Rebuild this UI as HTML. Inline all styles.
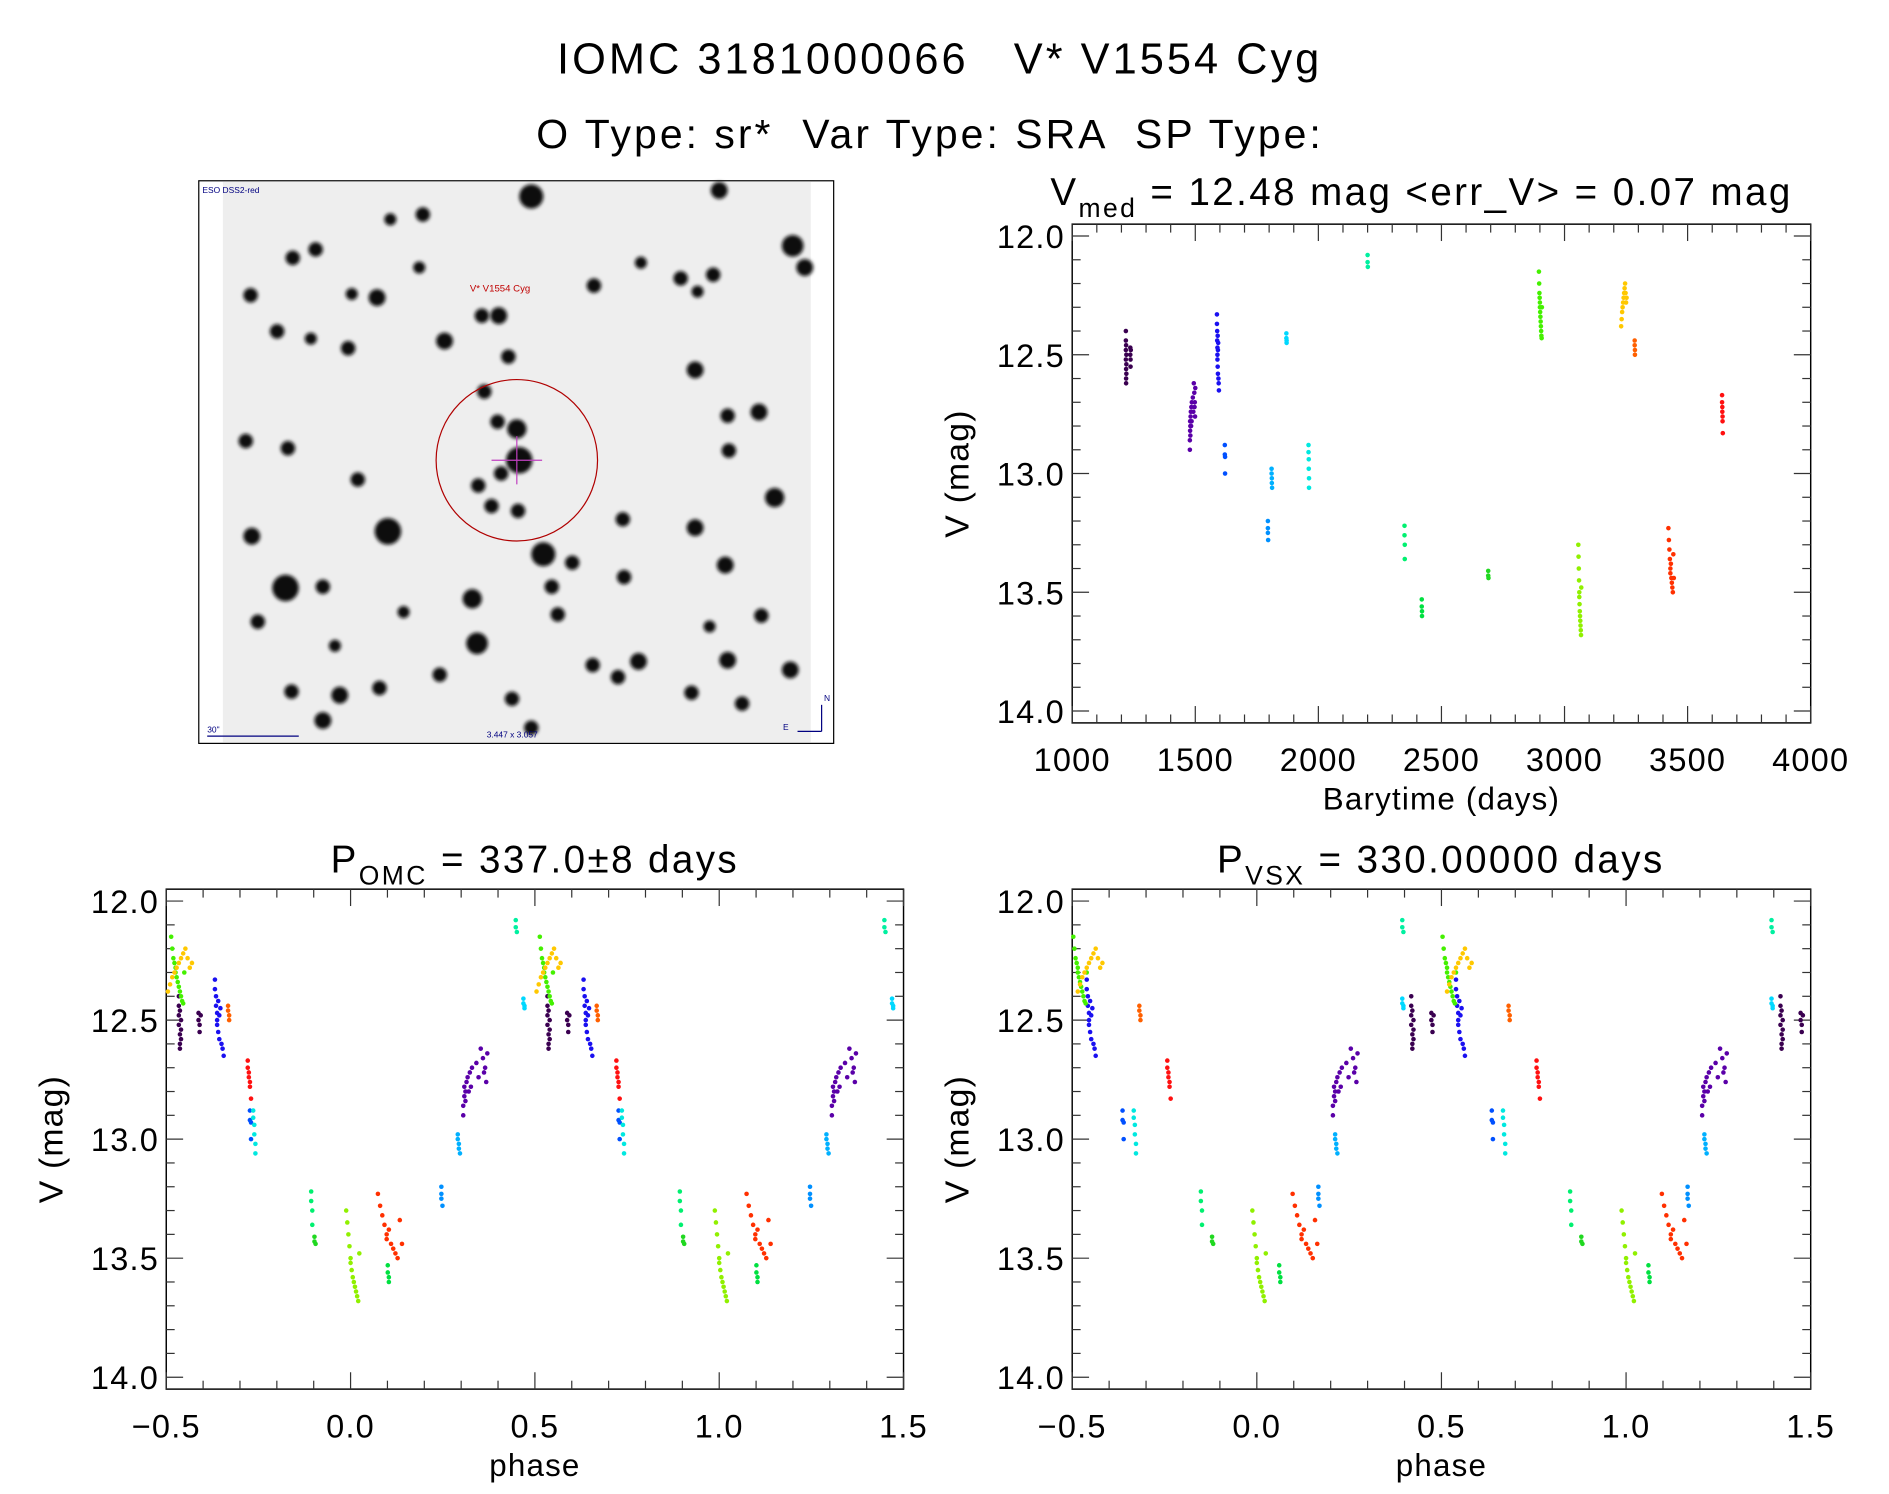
<!DOCTYPE html>
<html><head><meta charset="utf-8"><style>
html,body{margin:0;padding:0;background:#fff;}
svg{display:block;font-family:"Liberation Sans",sans-serif;}
</style></head><body>
<svg id="fig" width="1889" height="1494" viewBox="0 0 1568 1240" xmlns="http://www.w3.org/2000/svg">
<defs><filter id="soft" x="-50%" y="-50%" width="200%" height="200%"><feGaussianBlur stdDeviation="1.6"/></filter></defs>
<text x="780" y="61" font-size="36" text-anchor="middle" letter-spacing="2.5" xml:space="preserve">IOMC 3181000066   V* V1554 Cyg</text>
<text x="772" y="123" font-size="34" text-anchor="middle" letter-spacing="2.5" xml:space="preserve">O Type: sr*  Var Type: SRA  SP Type:</text>
<g id="sky"></g>
<g id="p1"></g>
<g id="p2"></g>
<g id="p3"></g>
</svg>
<script>
// ---- light curve data (time in days, V mag) per observing block ----
const blockColors = ['#3a0050','#5a00a8','#1a10f0','#0050ff','#0090ff','#00b0ff','#00d8ff','#00e8e0','#00f0a0','#00f070','#00e040','#20d820','#44f000','#90f000','#ffc800','#ff6000','#ff3000','#ff1010'];
const blockTimes = [
 [1218,1218,1218,1218,1219,1219,1219,1219,1220,1220,1220,1236,1236,1237,1237,1238],
 [1478,1478,1479,1479,1480,1480,1481,1482,1483,1484,1485,1486,1490,1492,1494,1496,1497,1498,1499,1500],
 [1588,1588,1589,1589,1590,1590,1590,1591,1591,1592,1592,1593,1594,1595,1596],
 [1620,1620,1621,1621],
 [1795,1795,1795,1796],
 [1810,1810,1811,1811,1812],
 [1870,1870,1871,1871],
 [1960,1960,1961,1961,1962,1962],
 [2200,2200,2201],
 [2350,2350,2351,2351],
 [2420,2420,2421,2421],
 [2690,2690,2691],
 [2896,2897,2898,2899,2900,2900,2901,2902,2903,2904,2905,2906,2907,2908],
 [3056,3057,3058,3059,3060,3060,3061,3062,3063,3064,3065,3066,3067,3068],
 [3230,3232,3234,3236,3238,3240,3242,3244,3246,3248,3250,3252],
 [3285,3285,3286,3286],
 [3422,3424,3426,3428,3430,3430,3432,3434,3436,3438,3440,3442,3444],
 [3640,3640,3641,3641,3642,3642,3643]
];
const blockMags = [
 [12.40,12.44,12.48,12.52,12.56,12.60,12.62,12.46,12.50,12.54,12.58,12.47,12.50,12.52,12.55,12.48],
 [12.90,12.86,12.82,12.78,12.80,12.84,12.76,12.74,12.80,12.72,12.78,12.70,12.68,12.74,12.62,12.66,12.72,12.70,12.76,12.64],
 [12.33,12.37,12.40,12.44,12.47,12.50,12.52,12.55,12.42,12.48,12.58,12.45,12.60,12.62,12.65],
 [12.88,12.92,12.93,13.00],
 [13.20,13.23,13.25,13.28],
 [12.98,13.00,13.02,13.04,13.06],
 [12.41,12.43,12.44,12.45],
 [12.88,12.91,12.94,12.98,13.02,13.06],
 [12.08,12.11,12.13],
 [13.22,13.26,13.30,13.36],
 [13.53,13.56,13.58,13.60],
 [13.41,13.43,13.44],
 [12.15,12.20,12.24,12.26,12.28,12.30,12.32,12.34,12.36,12.38,12.40,12.42,12.43,12.30],
 [13.30,13.35,13.40,13.45,13.50,13.52,13.55,13.58,13.60,13.62,13.64,13.66,13.68,13.48],
 [12.38,12.35,12.32,12.30,12.28,12.26,12.24,12.22,12.20,12.24,12.28,12.26],
 [12.44,12.46,12.48,12.50],
 [13.23,13.28,13.32,13.36,13.40,13.42,13.38,13.44,13.46,13.48,13.50,13.34,13.44],
 [12.67,12.70,12.72,12.74,12.76,12.78,12.83]
];
const epoch = 3060;
const periodOMC = 337.0;
const periodVSX = 330.0;
const magTicks = ['12.0','12.5','13.0','13.5','14.0'];
const timeTicks = ['1000','1500','2000','2500','3000','3500','4000'];
const phaseTicks = ['\u22120.5','0.0','0.5','1.0','1.5'];

const NS='http://www.w3.org/2000/svg';
function mk(tag,attrs,parent){const e=document.createElementNS(NS,tag);for(const k in attrs)e.setAttribute(k,attrs[k]);parent.appendChild(e);return e;}

function panel(g,box,xmin,xmax,xmaj,xmin_step,xlabels,xtitle){
  const [L,T,R,B]=box;
  const ymin=11.95,ymax=14.05;
  const sx=v=>L+(v-xmin)/(xmax-xmin)*(R-L);
  const sy=v=>T+(v-ymin)/(ymax-ymin)*(B-T);
  const frame=mk('rect',{x:L,y:T,width:R-L,height:B-T,fill:'none',stroke:'#000','stroke-width':1.2},g);
  
  
  for(let i=0;i<=20;i++){const v=12+i*0.1;const y=sy(v);const len=(i%5===0)?14:7;
    mk('line',{x1:L,x2:L+len,y1:y,y2:y,stroke:'#333','stroke-width':1},g);
    mk('line',{x1:R,x2:R-len,y1:y,y2:y,stroke:'#333','stroke-width':1},g);}
  magTicks.forEach((t,i)=>{const tx=mk('text',{x:L-6,y:sy(12+i*0.5)+10,'font-size':27,'text-anchor':'end','letter-spacing':1},g);tx.textContent=t;
    
    });
  const n=Math.round((xmax-xmin)/xmin_step);
  for(let i=0;i<=n;i++){const v=xmin+i*xmin_step;const x=sx(v);const maj=Math.abs(((v-xmin)/xmaj)-Math.round((v-xmin)/xmaj))<1e-6;const len=maj?14:7;
    mk('line',{x1:x,x2:x,y1:B,y2:B-len,stroke:'#333','stroke-width':1},g);
    mk('line',{x1:x,x2:x,y1:T,y2:T+len,stroke:'#333','stroke-width':1},g);}
  xlabels.forEach((t,i)=>{const tx=mk('text',{x:sx(xmin+i*xmaj),y:B+40,'font-size':27,'text-anchor':'middle','letter-spacing':1},g);tx.textContent=t;
    
    });
  const xt=mk('text',{x:(L+R)/2,y:B+72,'font-size':26,'text-anchor':'middle','letter-spacing':1},g);xt.textContent=xtitle;
  
  
  const yt=mk('text',{x:0,y:0,'font-size':28,'text-anchor':'middle','letter-spacing':1,transform:`translate(${L-86},${(T+B)/2}) rotate(-90)`},g);yt.textContent='V (mag)';
  
  
  return {sx,sy};
}
function dot(g,x,y,c){const d=mk('circle',{cx:x,cy:y,r:1.9,fill:c},g);
  
  }

const p1=document.getElementById('p1');
const a1=panel(p1,[890,186,1503,600],1000,4000,500,100,timeTicks,'Barytime (days)');
const t1=mk('text',{x:1180,y:170,'font-size':32,'text-anchor':'middle','letter-spacing':2},p1);
t1.innerHTML='V<tspan font-size="22" dy="10">med</tspan><tspan dy="-10"> = 12.48 mag &lt;err_V&gt; = 0.07 mag</tspan>';


blockTimes.forEach((ts,b)=>ts.forEach((t,i)=>dot(p1,a1.sx(t),a1.sy(blockMags[b][i]),blockColors[b])));

function phasePanel(id,box,P,titleMain,titleSub,titleRest,tx){
  const g=document.getElementById(id);
  const a=panel(g,box,-0.5,1.5,0.5,0.1,phaseTicks,'phase');
  const t=mk('text',{x:tx,y:box[1]-14,'font-size':32,'text-anchor':'middle','letter-spacing':2},g);
  t.innerHTML=titleMain+'<tspan font-size="22" dy="10">'+titleSub+'</tspan><tspan dy="-10">'+titleRest+'</tspan>';
  
  
  blockTimes.forEach((ts,b)=>ts.forEach((tt,i)=>{
    let ph=((tt-epoch)/P)%1; if(ph<0)ph+=1;
    [ph-1,ph,ph+1].forEach(p=>{if(p>=-0.5&&p<=1.5)dot(g,a.sx(p),a.sy(blockMags[b][i]),blockColors[b]);});
  }));
}
phasePanel('p2',[138,738,750,1153],periodOMC,'P','OMC',' = 337.0\u00b18 days',444);
phasePanel('p3',[890,738,1503,1153],periodVSX,'P','VSX',' = 330.00000 days',1196);

// sky image (decorative)
const sky=document.getElementById('sky');
mk('rect',{x:165,y:150,width:527,height:467,fill:'#fff',stroke:'#000','stroke-width':1},sky);
mk('rect',{x:185,y:151,width:488,height:465,fill:'#eeeeee'},sky);
const stars=[[441,163,9],[597,158,6],[658,204,8],[668,222,6],[351,178,5],[324,182,4],[262,207,5],[243,214,5],[208,245,5],[292,244,4],[313,247,6],[400,262,5],[414,262,6],[493,237,5],[565,231,5],[592,228,5],[579,242,4],[532,218,4],[348,222,4],[230,275,5],[258,281,4],[289,289,5],[369,283,6],[422,296,5],[577,307,6],[604,345,5],[630,342,6],[605,374,5],[643,413,7],[413,350,5],[402,325,5],[429,356,7],[431,382,10],[416,393,5],[430,424,5],[408,420,5],[397,403,5],[322,441,10],[451,460,9],[458,487,5],[475,467,5],[204,366,5],[239,372,5],[297,398,5],[237,488,10],[268,487,5],[209,445,6],[392,497,7],[396,534,8],[463,510,5],[518,479,5],[517,431,5],[577,438,6],[602,469,6],[632,511,5],[604,548,6],[656,556,6],[530,549,6],[574,575,5],[268,598,6],[242,574,5],[282,577,6],[315,571,5],[365,560,5],[425,580,5],[492,552,5],[513,562,5],[589,520,4],[335,508,4],[214,516,5],[278,536,4],[441,604,5],[616,584,5]];
stars.forEach(s=>{mk('circle',{cx:s[0],cy:s[1],r:s[2]+1,fill:'#111',filter:'url(#soft)'},sky);});
mk('circle',{cx:429,cy:382,r:67,fill:'none',stroke:'#b00000','stroke-width':1},sky);
mk('line',{x1:408,x2:450,y1:382,y2:382,stroke:'#c040c0','stroke-width':1},sky);
mk('line',{x1:429,x2:429,y1:362,y2:402,stroke:'#c040c0','stroke-width':1},sky);
const lab=mk('text',{x:390,y:242,'font-size':8,fill:'#c00000'},sky);lab.textContent='V* V1554 Cyg';
const lab2=mk('text',{x:168,y:160,'font-size':7,fill:'#000080'},sky);lab2.textContent='ESO DSS2-red';
const lab3=mk('text',{x:172,y:608,'font-size':7,fill:'#000080'},sky);lab3.textContent='30"';
mk('line',{x1:172,x2:248,y1:611,y2:611,stroke:'#000080','stroke-width':1},sky);
const lab4=mk('text',{x:404,y:612,'font-size':7,fill:'#000080'},sky);lab4.textContent='3.447 x 3.057';
mk('line',{x1:662,x2:682,y1:607,y2:607,stroke:'#000080','stroke-width':1},sky);
mk('line',{x1:682,x2:682,y1:607,y2:585,stroke:'#000080','stroke-width':1},sky);
const lab5=mk('text',{x:684,y:582,'font-size':7,fill:'#000080'},sky);lab5.textContent='N';
const lab6=mk('text',{x:650,y:606,'font-size':7,fill:'#000080'},sky);lab6.textContent='E';
</script>
</body></html>
